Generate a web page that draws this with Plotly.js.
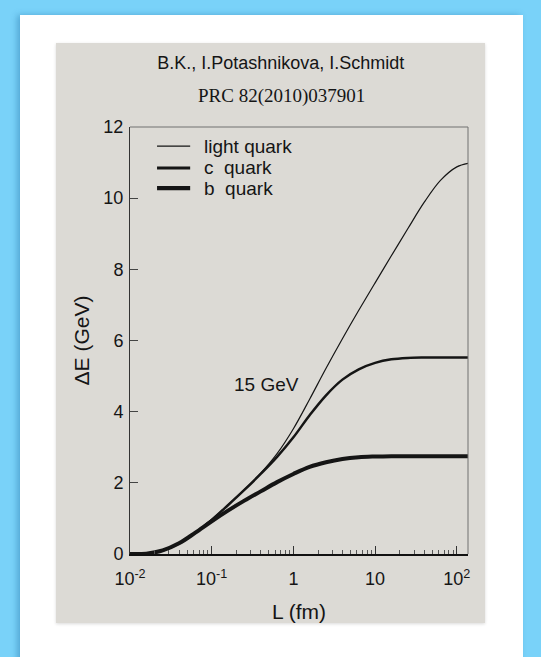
<!DOCTYPE html>
<html>
<head>
<meta charset="utf-8">
<script src="https://cdn.plot.ly/plotly-3.0.1.min.js"></script>
<style>
  html, body { margin:0; padding:0; width:541px; height:657px; overflow:hidden; background:#79d2f9; }
  #panel { position:absolute; left:20px; top:15px; width:503px; height:660px; background:#ffffff;
           box-shadow: -3px 0 6px rgba(40,120,170,0.45); }
  #chart { position:absolute; left:56px; top:43px; width:429px; height:580px;
           box-shadow: 0 1px 3px rgba(0,0,0,0.15); }
</style>
</head>
<body>
<div id="panel"></div>
<div id="chart"></div>
<script>
// L (fm)
const L = [0.01, 0.0158, 0.0251, 0.0398, 0.0631, 0.1, 0.158, 0.251, 0.398, 0.631,
           1, 1.58, 2.51, 3.98, 6.31, 10, 15.8, 25.1, 39.8, 63.1, 100, 137];
// Delta E (GeV), 15 GeV jets
const lightQuark = [0, 0.01, 0.1, 0.3, 0.6, 0.97, 1.38, 1.81, 2.27, 2.82,
                    3.52, 4.35, 5.22, 6.05, 6.85, 7.62, 8.38, 9.14, 9.88, 10.50, 10.88, 10.98];
const cQuark     = [0, 0.01, 0.1, 0.3, 0.6, 0.96, 1.37, 1.80, 2.25, 2.73,
                    3.28, 3.90, 4.46, 4.90, 5.19, 5.37, 5.47, 5.51, 5.52, 5.52, 5.52, 5.52];
const bQuark     = [0, 0.01, 0.1, 0.3, 0.6, 0.92, 1.22, 1.50, 1.76, 2.02,
                    2.25, 2.45, 2.58, 2.67, 2.72, 2.74, 2.75, 2.75, 2.75, 2.75, 2.75, 2.75];

const seriesNames = ['light quark', 'c  quark', 'b  quark'];
const lineWidths = [1.2, 2.5, 4];
const xTickVals = [0.01, 0.1, 1, 10, 100];
const xTickText = ['10<sup>-2</sup>', '10<sup>-1</sup>', '1', '10', '10<sup>2</sup>'];
const yTickVals = [0, 2, 4, 6, 8, 10, 12];

const ink = '#151515';
const sans = 'Liberation Sans, Arial, Helvetica, sans-serif';
const serif = 'Liberation Serif, Times New Roman, serif';

const series = [lightQuark, cQuark, bQuark];
const traces = series.map((ys, i) => ({
  x: L, y: ys, name: seriesNames[i], mode: 'lines',
  line: {color: ink, width: lineWidths[i], shape: 'spline', smoothing: 1}
}));

// hand-placed legend (compact row spacing as in the reference)
const legX0 = 0.08, legX1 = 0.178, legTextX = 0.212;
const legRows = [0.955, 0.904, 0.857];
const legendShapes = seriesNames.map((n, i) => ({
  type: 'line', xref: 'paper', yref: 'paper', x0: legX0, x1: legX1, y0: legRows[i], y1: legRows[i],
  line: {color: ink, width: lineWidths[i] + (i === 0 ? 0 : 0.3)}
}));
const legendTexts = seriesNames.map((n, i) => ({
  text: n.replace(/  /g, '&nbsp; '), xref: 'paper', yref: 'paper', x: legTextX, y: legRows[i],
  xanchor: 'left', yanchor: 'middle', showarrow: false, font: {family: sans, size: 19, color: ink}
}));

const layout = {
  width: 429, height: 580,
  margin: {l: 74, r: 17, t: 84, b: 69},
  paper_bgcolor: '#dcdad5',
  plot_bgcolor: '#dcdad5',
  font: {family: sans, color: ink, size: 18},
  showlegend: false,
  title: {text: 'B.K., I.Potashnikova, I.Schmidt', font: {family: sans, size: 18, color: ink},
          xref: 'container', yref: 'container', x: 0.524, y: 0.9655, xanchor: 'center', yanchor: 'middle'},
  xaxis: {
    type: 'log', range: [-2, 2.137], tickmode: 'array', tickvals: xTickVals, ticktext: xTickText,
    ticks: 'inside', ticklen: 8, tickwidth: 1, tickcolor: '#333',
    minor: {ticks: 'inside', ticklen: 4, tickwidth: 1, tickcolor: '#555', dtick: 'D1'},
    showgrid: false, zeroline: false, showline: true, linecolor: '#111', linewidth: 1.5,
    tickfont: {family: sans, size: 18, color: ink}, ticklabelstandoff: 8,
    title: {text: 'L (fm)', font: {family: sans, size: 21, color: ink}, standoff: 18},
    automargin: false
  },
  yaxis: {
    range: [0, 12], tickvals: yTickVals, ticks: 'inside', ticklen: 8, tickwidth: 1, tickcolor: '#444',
    showgrid: false, zeroline: false, showline: true, linecolor: '#333', linewidth: 1,
    tickfont: {family: sans, size: 18, color: ink}, ticklabelstandoff: 2,
    title: {text: 'ΔE (GeV)', font: {family: sans, size: 21, color: ink}, standoff: 8},
    automargin: false
  },
  shapes: [
    {type: 'line', xref: 'paper', yref: 'paper', x0: 0, x1: 1, y0: 1, y1: 1, line: {color: '#707070', width: 1}},
    {type: 'line', xref: 'paper', yref: 'paper', x0: 1, x1: 1, y0: 0, y1: 1, line: {color: '#707070', width: 1}}
  ].concat(legendShapes),
  annotations: [
    {text: 'PRC 82(2010)037901', xref: 'paper', yref: 'paper', x: 0.447, y: 1.072,
     xanchor: 'center', yanchor: 'middle', showarrow: false, font: {family: serif, size: 19, color: ink}},
    {text: '15 GeV', xref: 'x', yref: 'y', x: -0.335, y: 4.75, xanchor: 'center', yanchor: 'middle',
     showarrow: false, font: {family: sans, size: 19, color: ink}}
  ].concat(legendTexts)
};

Plotly.newPlot('chart', traces, layout, {displayModeBar: false, staticPlot: true});
</script>
</body>
</html>
